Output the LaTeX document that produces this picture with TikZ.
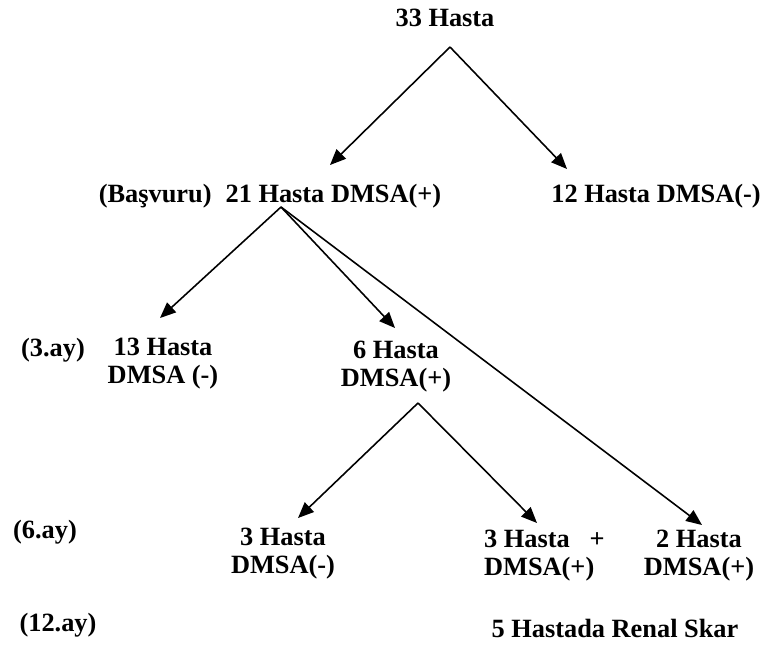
\documentclass[tikz,border=0pt]{standalone}
\usepackage{fontspec}
\setmainfont{Liberation Serif}
\usetikzlibrary{arrows.meta}
\tikzset{
  lbl/.style={font=\bfseries\fontsize{15}{16}\selectfont, inner sep=1pt, align=center},
  arr/.style={-{Triangle[length=9pt,width=7.5pt]}, line width=0.9pt}
}
\begin{document}
\begin{tikzpicture}[x=0.02cm, y=-0.02cm]
\useasboundingbox (0,0) rectangle (760,654);
% top
\node[lbl] (n33) at (445,18) {33 Hasta};
\coordinate (a33) at (450,47);
\coordinate (t21) at (330,165);
\coordinate (t12) at (567,169);
\draw[arr] (a33) -- (t21);
\draw[arr] (a33) -- (t12);
% basvuru
\node[lbl] (nBas) at (270,196) {(Başvuru)\hspace{8pt}21 Hasta DMSA(+)};
\node[lbl] (n12) at (656,196) {12 Hasta DMSA(-)};
\coordinate (a21) at (281,207);
\coordinate (t13) at (160,318);
\coordinate (t6) at (395,328);
\coordinate (t2) at (702,525);
\foreach \t in {t13,t6,t2} {\draw[arr] (a21) -- (\t);}
% 3. ay
\node[lbl] (l3) at (53,350) {(3.ay)};
\node[lbl] (n13) at (163,364) {13 Hasta\\DMSA (-)};
\node[lbl] (n6) at (396,367) {6 Hasta\\DMSA(+)};
\coordinate (a6) at (418,403);
\coordinate (t3n) at (298,518);
\coordinate (t3p) at (537,523);
\draw[arr] (a6) -- (t3n);
\draw[arr] (a6) -- (t3p);
% 6. ay
\node[lbl] (l6) at (45,532) {(6.ay)};
\node[lbl] (n3n) at (283,554) {3 Hasta\\DMSA(-)};
\node[lbl, align=left, anchor=west] (n3p) at (482,556) {3 Hasta\ \ \ +\\DMSA(+)};
\node[lbl] (n2) at (699,556) {2 Hasta\\DMSA(+)};
% 12. ay
\node[lbl] (l12) at (58,625) {(12.ay)};
\node[lbl] (nSkar) at (615,628) {5 Hastada Renal Skar};
\end{tikzpicture}
\end{document}
